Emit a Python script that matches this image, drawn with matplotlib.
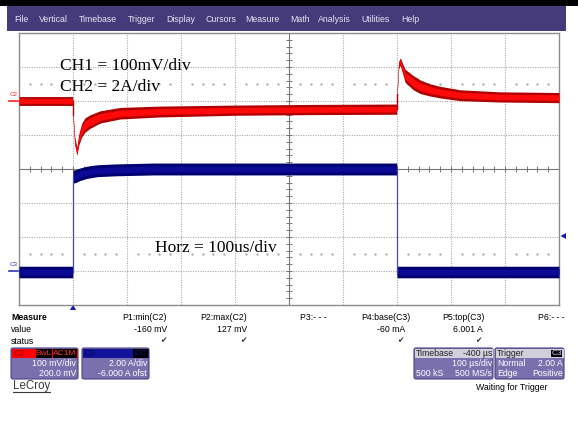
import matplotlib
matplotlib.use("Agg")
import matplotlib.pyplot as plt
from matplotlib.patches import FancyBboxPatch, Rectangle, Polygon
import numpy as np

# ---------------- data ----------------
menu_labels = ["File", "Vertical", "Timebase", "Trigger", "Display", "Cursors",
               "Measure", "Math", "Analysis", "Utilities", "Help"]

# C2 (red) : time in us, value in mV, band half-width in mV
c2_t = [-100, -0.5, 0, 3, 7, 11, 16, 22, 31, 50, 87, 160, 300, 450, 599.5,
        600, 603, 606, 615, 630, 643, 660, 680, 717, 790, 900]
c2_mv = [0, 0, -40, -115, -148, -112, -86, -71, -61, -47, -36, -31, -27, -25, -24,
         20, 105, 116, 74, 54, 42, 33, 26, 17, 12, 10]
c2_half = [13, 13, 12, 12, 12, 16, 20, 21, 20, 18, 17, 16, 15, 15, 15,
           13, 11, 11, 19, 21, 20, 18, 17, 16, 15, 15]

# C3 (blue) : time in us, current in A, band half-width in A
c3_t = [-100, -0.5, 0, 5, 12, 25, 45, 80, 150, 300, 599.5, 600, 900]
c3_a = [-0.06, -0.06, 5.55, 5.58, 5.68, 5.8, 5.9, 5.95, 6.0, 6.0, 6.0, -0.06, -0.06]
c3_half = [0.34, 0.34, 0.38, 0.38, 0.37, 0.36, 0.35, 0.35, 0.35, 0.35, 0.35, 0.34, 0.34]

c2_scale_mv, c2_offset_mv = 100.0, 200.0   # mV/div, offset
c3_scale_a, c3_offset_a = 2.0, -6.0         # A/div, offset

meas_labels = ["P1:min(C2)", "P2:max(C2)", "P3:- - -", "P4:base(C3)", "P5:top(C3)", "P6:- - -"]
meas_values = ["-160 mV", "127 mV", "", "-60 mA", "6.001 A", ""]
meas_status = [True, True, False, True, True, False]

annot_texts = ["CH1 = 100mV/div", "CH2 = 2A/div", "Horz = 100us/div"]

# ---------------- figure ----------------
W, H = 578, 446
fig = plt.figure(figsize=(W / 100, H / 100), dpi=100)
fig.patch.set_facecolor("white")

ov = fig.add_axes([0, 0, 1, 1])
ov.set_xlim(0, W)
ov.set_ylim(H, 0)
ov.axis("off")
ov.set_zorder(0)

SANS = "Liberation Sans"

# top black strip and menu bar
ov.add_patch(Rectangle((0, 0), W, 5.5, color="black", lw=0))
ov.add_patch(Rectangle((7, 5.5), 559, 25.5, color="#453a7a", lw=0))
menu_x = [14, 39, 79, 128, 166, 205, 245, 290, 318, 361, 401]
for lbl, mx in zip(menu_labels, menu_x):
    ov.text(mx, 19, lbl, color="#e6e4f0", fontsize=6.3, family=SANS, va="center", ha="left")

# ---------------- scope area ----------------
L, R, T, B = 19, 559, 33, 305
ax = fig.add_axes([L / W, 1 - B / H, (R - L) / W, (B - T) / H])
ax.set_zorder(2)
ax.set_xlim(-100, 900)
ax.set_ylim(-4, 4)
ax.set_xticks([])
ax.set_yticks([])
for s in ax.spines.values():
    s.set_color("#8c8c8c")
    s.set_linewidth(1.0)
ax.patch.set_facecolor("white")

grid_c = "#ababab"
for k in range(1, 10):
    xv = -100 + 100 * k
    if k != 5:
        ax.axvline(xv, color=grid_c, lw=0.8, ls=(0, (1, 1.2)), zorder=1)
for k in range(-3, 4):
    if k != 0:
        ax.axhline(k, color=grid_c, lw=0.8, ls=(0, (1, 1.2)), zorder=1)
# centre cross with minor ticks
ax.axvline(400, color="#777777", lw=0.8, zorder=1)
ax.axhline(0, color="#777777", lw=0.8, zorder=1)
tx = np.arange(-100, 901, 20)
ax.plot(tx, np.zeros_like(tx), ls="none", marker="|", ms=4, color="#777777", mew=0.7, zorder=1)
ty = np.arange(-4, 4.01, 0.2)
ax.plot(np.full_like(ty, 400), ty, ls="none", marker="_", ms=4, color="#777777", mew=0.7, zorder=1)
# sparse dot rows
dx = [v for v in np.arange(-100, 901, 20) if abs(((v + 100) / 100) - round((v + 100) / 100)) > 1e-6]
for yy in (2.5, -2.5):
    ax.plot(dx, np.full(len(dx), yy), ls="none", marker="s", ms=0.7, color="#b0b0b0", zorder=1)

# traces
c2_div = (np.array(c2_mv) + c2_offset_mv) / c2_scale_mv
c2_h = np.array(c2_half) / c2_scale_mv
c3_div = (np.array(c3_a) + c3_offset_a) / c3_scale_a
c3_h = np.array(c3_half) / c3_scale_a


def step_lines(t, v, color, lw, z):
    for i in range(len(t) - 1):
        if t[i + 1] - t[i] < 1.0:
            ax.plot([t[i + 1], t[i + 1]], [v[i], v[i + 1]], color=color, lw=lw, zorder=z)


ax.fill_between(c3_t, c3_div - c3_h, c3_div + c3_h, color="#000070", lw=0, zorder=3)
ax.fill_between(c3_t, c3_div - c3_h * 0.5, c3_div + c3_h * 0.5, color="#0a0a96", lw=0, zorder=3)
step_lines(c3_t, c3_div, "#4a4aa8", 0.9, 3)

ax.fill_between(c2_t, c2_div - c2_h, c2_div + c2_h, color="#b00000", lw=0, zorder=4)
ax.fill_between(c2_t, c2_div - c2_h * 0.55, c2_div + c2_h * 0.55, color="#ff0a0a", lw=0, zorder=4)
step_lines(c2_t, c2_div, "#c00000", 1.0, 4)

# annotations
ax_pos = lambda px, py: ((px - L) / (R - L) * 1000 - 100, 4 - (py - T) / (B - T) * 8)
for txt, (px, py) in zip(annot_texts, [(60, 70), (60, 91), (155, 252)]):
    ax.text(*ax_pos(px, py), txt, family="Liberation Serif", fontsize=12.5,
            color="black", ha="left", va="baseline", zorder=5)

# channel markers on left
ov.text(13.5, 95, "C2", color="#ff2020", fontsize=4.5, family=SANS, ha="center", va="center")
ov.plot([9, 18], [100.5, 100.5], color="#ff2020", lw=1.2)
ov.text(13.5, 265, "C3", color="#3030c0", fontsize=4.5, family=SANS, ha="center", va="center")
ov.plot([9, 18], [270.5, 270.5], color="#3030c0", lw=1.2)

# trigger markers
ov.add_patch(Polygon([[70, 310], [76, 310], [73, 304.5]], color="#1a1ab0", lw=0))
ov.add_patch(Polygon([[566, 233], [566, 239], [560.5, 236]], color="#1a1ab0", lw=0))

# ---------------- measure table ----------------
fs = 6.3
ov.text(11, 317, "Measure", fontsize=fs, family=SANS, weight="bold", va="center", ha="left")
ov.text(11, 329, "value", fontsize=fs, family=SANS, va="center", ha="left")
ov.text(11, 341, "status", fontsize=fs, family=SANS, va="center", ha="left")
lab_right = [167, 247, 327, 411, 485, 565]
val_right = [167, 247, 327, 405, 483, 565]
chk_x = [163, 243, 323, 400, 478, 560]
for lbl, val, st, lr, vr, cx in zip(meas_labels, meas_values, meas_status, lab_right, val_right, chk_x):
    ov.text(lr, 317, lbl, fontsize=fs, family=SANS, va="center", ha="right")
    if val:
        ov.text(vr, 329, val, fontsize=fs, family=SANS, va="center", ha="right")
    if st:
        ov.text(cx, 341, "\u2714", fontsize=5.5, family="DejaVu Sans", color="#333333",
                va="center", ha="center")

# ---------------- channel boxes ----------------
box_body = "#7b70ae"
box_edge = "#4b4182"


def rbox(x, y, w, h, fc, ec=None, r=2.0, lw=0.8, z=1):
    p = FancyBboxPatch((x, y), w, h, boxstyle=f"round,pad=0,rounding_size={r}",
                       fc=fc, ec=ec if ec else "none", lw=lw, zorder=z)
    ov.add_patch(p)


def tag(x0, x1, y0, y1, txt, tc):
    ov.add_patch(Rectangle((x0, y0), x1 - x0, y1 - y0, color="black", lw=0, zorder=3))
    ov.text((x0 + x1) / 2, (y0 + y1) / 2 + 0.3, txt, color=tc, fontsize=6, family=SANS,
            ha="center", va="center", zorder=4)


wt = "#ffffff"
# C2
rbox(11, 348, 67, 31, box_body, box_edge)
ov.add_patch(Rectangle((11.5, 348.5), 66, 9, color="#ff0000", lw=0, zorder=2))
ov.text(13, 353, "C2", color="#8a0000", fontsize=6.3, family=SANS, va="center", ha="left", zorder=4)
tag(36, 52, 348.5, 357.5, "BwL", "#ff3030")
tag(53, 76.5, 348.5, 357.5, "AC1M", "#ff3030")
ov.text(76, 364, "100 mV/div", color=wt, fontsize=fs, family=SANS, va="center", ha="right", zorder=4)
ov.text(76, 373.5, "200.0 mV", color=wt, fontsize=fs, family=SANS, va="center", ha="right", zorder=4)
# C3
rbox(82, 348, 67, 31, box_body, box_edge)
ov.add_patch(Rectangle((82.5, 348.5), 66, 9, color="#12129a", lw=0, zorder=2))
ov.text(84, 353, "C3", color="#060660", fontsize=6.3, family=SANS, va="center", ha="left", zorder=4)
tag(133, 148, 348.5, 357.5, "DC", "#101080")
ov.text(147, 364, "2.00 A/div", color=wt, fontsize=fs, family=SANS, va="center", ha="right", zorder=4)
ov.text(147, 373.5, "-6.000 A ofst", color=wt, fontsize=fs, family=SANS, va="center", ha="right", zorder=4)
# Timebase
rbox(414, 348, 79, 31, box_body, box_edge)
ov.add_patch(Rectangle((414.5, 348.5), 78, 9, color="#d2d0dc", lw=0, zorder=2))
ov.text(416, 353, "Timebase", color="#222222", fontsize=fs, family=SANS, va="center", ha="left", zorder=4)
ov.text(492, 353, "-400 \u00b5s", color="#222222", fontsize=fs, family=SANS, va="center", ha="right", zorder=4)
ov.text(492, 364, "100 \u00b5s/div", color=wt, fontsize=fs, family=SANS, va="center", ha="right", zorder=4)
ov.text(416, 373.5, "500 kS", color=wt, fontsize=fs, family=SANS, va="center", ha="left", zorder=4)
ov.text(492, 373.5, "500 MS/s", color=wt, fontsize=fs, family=SANS, va="center", ha="right", zorder=4)
# Trigger
rbox(495, 348, 69, 31, box_body, box_edge)
ov.add_patch(Rectangle((495.5, 348.5), 68, 9, color="#d2d0dc", lw=0, zorder=2))
ov.text(497, 353, "Trigger", color="#222222", fontsize=fs, family=SANS, va="center", ha="left", zorder=4)
tag(551, 562, 349.5, 356.5, "C3", "#d0d0ff")
ov.text(497, 364, "Normal", color=wt, fontsize=fs, family=SANS, va="center", ha="left", zorder=4)
ov.text(563, 364, "2.00 A", color=wt, fontsize=fs, family=SANS, va="center", ha="right", zorder=4)
ov.text(497, 373.5, "Edge", color=wt, fontsize=fs, family=SANS, va="center", ha="left", zorder=4)
ov.text(563, 373.5, "Positive", color=wt, fontsize=fs, family=SANS, va="center", ha="right", zorder=4)

ov.text(548, 388, "Waiting for Trigger", fontsize=fs, family=SANS, va="center", ha="right")

# LeCroy logo
ov.text(13, 386, "LeCroy", fontsize=8.3, family=SANS, color="#3a3a3a", va="center", ha="left")
ov.plot([13, 50], [391.5, 391.5], color="#3a3a3a", lw=0.8)

fig.savefig("out.png", dpi=100)
